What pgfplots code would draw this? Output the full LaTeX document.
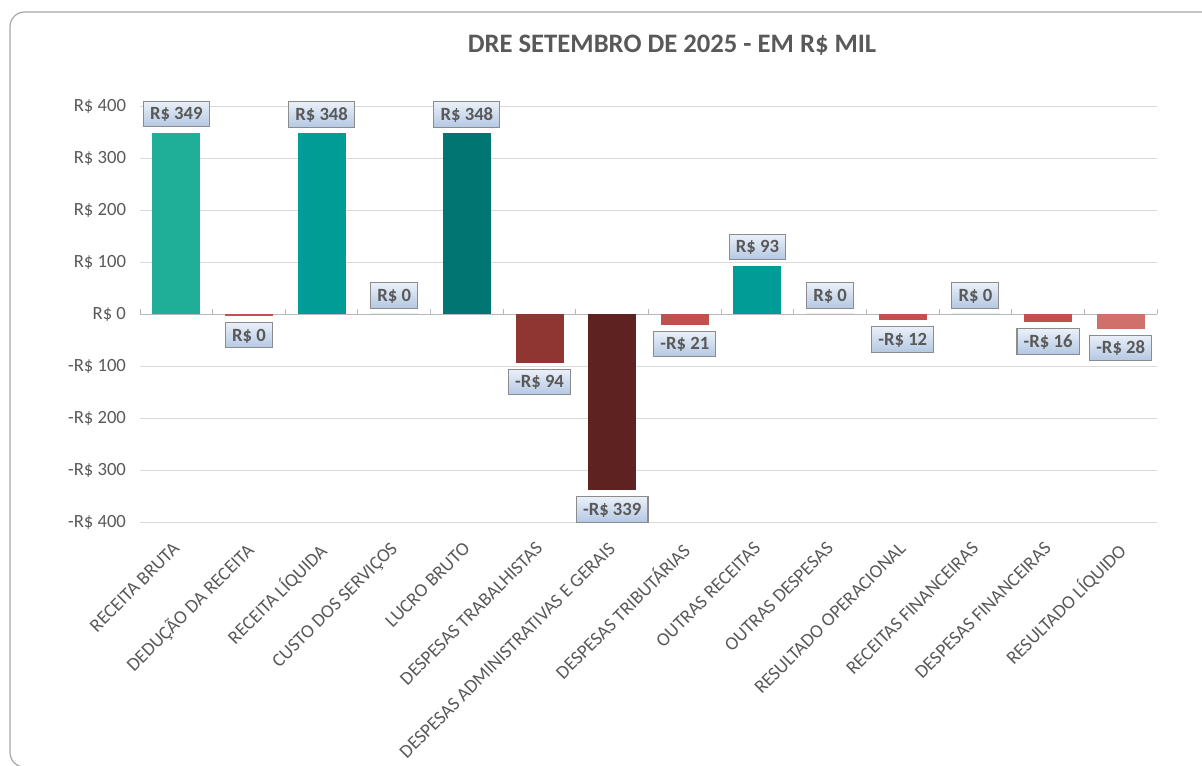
\documentclass[border=0pt]{standalone}
\usepackage{pgfplots}
\pgfplotsset{compat=1.18}
\usepackage{fontspec}
\setmainfont{Carlito}

\definecolor{txt}{HTML}{595959}
\definecolor{gridc}{HTML}{D9D9D9}
\definecolor{framec}{HTML}{A6A6A6}
\definecolor{lblTop}{HTML}{EAF0F8}
\definecolor{lblBot}{HTML}{B4C8E3}
\definecolor{lblDraw}{HTML}{8C8C8C}
\definecolor{cRB}{HTML}{1FAF99}
\definecolor{cTeal}{HTML}{009C95}
\definecolor{cLB}{HTML}{007571}
\definecolor{cRed}{HTML}{C0504D}
\definecolor{cDT}{HTML}{8F3632}
\definecolor{cDA}{HTML}{5E2221}
\definecolor{cRL}{HTML}{D0706A}

\tikzset{
  lbl/.style={font=\bfseries\fontsize{14}{16}\selectfont, text=txt,
    draw=lblDraw, line width=0.8pt, top color=lblTop, bottom color=lblBot,
    inner xsep=5pt, inner ysep=4pt, text height=9.8pt, text depth=1.2pt},
}
\pgfplotsset{
  bx/.style={ybar, bar width=36pt, bar shift=0pt, draw=none, fill=#1},
  up/.style={nodes near coords, point meta=explicit symbolic,
    every node near coord/.style={lbl, anchor=south, yshift=4pt}},
  down/.style={nodes near coords, point meta=explicit symbolic,
    every node near coord/.style={lbl, anchor=north, yshift=-4.5pt}},
}

\begin{document}
\begin{tikzpicture}
\path[use as bounding box] (0,0) rectangle (901.5pt,574.5pt);
\begin{scope}
  \clip (0,0) rectangle (901.5pt,574.5pt);
  \draw[framec, line width=0.9pt, rounded corners=11pt] (7.5pt,-0.8pt) rectangle (940pt,565.5pt);
\end{scope}
\node[font=\bfseries\fontsize{20}{24}\selectfont, text=txt] at (504pt,540.5pt) {DRE SETEMBRO DE 2025 - EM R\$ MIL};

\begin{axis}[
  at={(105pt,183pt)}, anchor=south west,
  scale only axis, width=762.75pt, height=312pt,
  xmin=-0.5, xmax=13.5, ymin=-400, ymax=400,
  axis line style={draw=none},
  major tick length=0pt,
  ymajorgrids, grid style={gridc, line width=0.7pt},
  ytick={-400,-300,...,400},
  yticklabels={-R\$ 400,-R\$ 300,-R\$ 200,-R\$ 100,R\$ 0,R\$ 100,R\$ 200,R\$ 300,R\$ 400},
  yticklabel style={font=\fontsize{14}{16}\selectfont, text=txt, xshift=-7pt},
  xtick={0,...,13},
  xticklabels={RECEITA BRUTA,DEDUÇÃO DA RECEITA,RECEITA LÍQUIDA,CUSTO DOS SERVIÇOS,LUCRO BRUTO,DESPESAS TRABALHISTAS,DESPESAS ADMINISTRATIVAS E GERAIS,DESPESAS TRIBUTÁRIAS,OUTRAS RECEITAS,OUTRAS DESPESAS,RESULTADO OPERACIONAL,RECEITAS FINANCEIRAS,DESPESAS FINANCEIRAS,RESULTADO LÍQUIDO},
  xticklabel style={font=\fontsize{14.2}{16}\selectfont, text=txt, rotate=45, anchor=north east, inner sep=1pt, xshift=-11.4pt, yshift=-6.5pt},
  clip=false,
]
\draw[gridc!85!black, line width=0.7pt] (axis cs:-0.5,0) -- (axis cs:13.5,0);
\pgfplotsinvokeforeach{-0.5,0.5,1.5,2.5,3.5,4.5,5.5,6.5,7.5,8.5,9.5,10.5,11.5,12.5,13.5}{
  \draw[gridc!85!black, line width=0.7pt] (axis cs:#1,0) -- ([yshift=3.75pt]axis cs:#1,0);
}
\addplot[bx=cRB, up] coordinates {(0,349) [R\$ 349]};
\addplot[bx=cRed, down] coordinates {(1,-4) [R\$ 0]};
\addplot[bx=cTeal, up] coordinates {(2,348) [R\$ 348]};
\addplot[bx=cTeal, up] coordinates {(3,0) [R\$ 0]};
\addplot[bx=cLB, up] coordinates {(4,348) [R\$ 348]};
\addplot[bx=cDT, down] coordinates {(5,-94) [-R\$ 94]};
\addplot[bx=cDA, down] coordinates {(6,-339) [-R\$ 339]};
\addplot[bx=cRed, down] coordinates {(7,-21) [-R\$ 21]};
\addplot[bx=cTeal, up] coordinates {(8,93) [R\$ 93]};
\addplot[bx=cRed, up] coordinates {(9,0) [R\$ 0]};
\addplot[bx=cRed, down] coordinates {(10,-12) [-R\$ 12]};
\addplot[bx=cTeal, up] coordinates {(11,0) [R\$ 0]};
\addplot[bx=cRed, down] coordinates {(12,-16) [-R\$ 16]};
\addplot[bx=cRL, down] coordinates {(13,-28) [-R\$ 28]};
\end{axis}
\end{tikzpicture}
\end{document}
